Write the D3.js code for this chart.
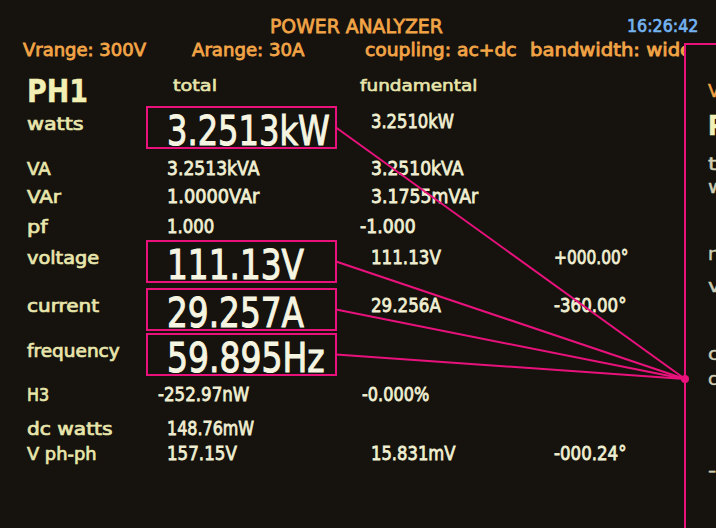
<!DOCTYPE html>
<html>
<head>
<meta charset="utf-8">
<script src="https://cdn.jsdelivr.net/npm/d3@7"></script>
<style>
  html, body { margin: 0; padding: 0; background: #16130e; }
  svg { display: block; }
  text { font-family: 'DejaVu Sans', sans-serif; }
</style>
</head>
<body>
<div id="screen"></div>
<script>
// readings shown on the analyzer screen
const title = 'POWER ANALYZER';
const clock = '16:26:42';
const settings = ['Vrange: 300V', 'Arange: 30A', 'coupling: ac+dc', 'bandwidth: wide'];
const phaseName = 'PH1';
const columns = ['total', 'fundamental'];

const rows = ['watts', 'VA', 'VAr', 'pf', 'voltage', 'current', 'frequency', 'H3', 'dc watts', 'V ph-ph'];
const totalVals = ['3.2513kW', '3.2513kVA', '1.0000VAr', '1.000', '111.13V', '29.257A', '59.895Hz', '-252.97nW', '148.76mW', '157.15V'];
const fundVals = ['3.2510kW', '3.2510kVA', '3.1755mVAr', '-1.000', '111.13V', '29.256A', '', '-0.000%', '', '15.831mV'];
const phaseVals = ['', '', '', '', '+000.00°', '-360.00°', '', '', '', '-000.24°'];
const bigRows = ['watts', 'voltage', 'current', 'frequency'];

// second channel, mostly hidden behind the right edge
const nextLines = ['Vrange', 'PH2', 'total', 'watts', 'rms', 'volts', 'current', 'cos', '-'];

const w = 716, h = 528;

const colors = {
  orange: '#f2a446',
  blue: '#74b4f2',
  label: '#e8e6ac',
  value: '#f0efd2',
  big: '#f6f5e2',
  ph: '#f2f0b4',
  pink: '#e9127d'
};

const svg = d3.select('#screen').append('svg')
  .attr('width', w)
  .attr('height', h);

svg.append('rect').attr('width', w).attr('height', h).attr('fill', '#16130e');

const defs = svg.append('defs');
defs.append('clipPath').attr('id', 'leftClip')
  .append('rect').attr('x', 0).attr('y', 0).attr('width', 685).attr('height', h);
defs.append('clipPath').attr('id', 'rightClip')
  .append('rect').attr('x', 686).attr('y', 44).attr('width', 30).attr('height', h);

// row baselines and column positions
const y = d3.scaleOrdinal()
  .domain(rows)
  .range([130, 175, 203, 233, 264, 312, 357, 401, 435, 460]);
const x = d3.scaleOrdinal()
  .domain(['label', 'total', 'fundamental', 'phase'])
  .range([27, 167, 371, 554]);

// rough glyph widths of the screen font, in digit widths
function glyphs(str) {
  return d3.sum(str.split(''), c => {
    if (/[0-9]/.test(c)) return 1;
    if (c === '.' || c === ':') return 0.5;
    if (c === '-' || c === ' ') return 0.8;
    if (c === '°') return 0.6;
    if (c === '%') return 1.1;
    if (c === 'm' || c === 'W') return 1.4;
    if (c === 'w') return 1.5;
    if (/[A-Z]/.test(c)) return 1.15;
    return 1;
  });
}

// a thin outline in the same colour thickens the strokes like the screen glow
function put(sel, str, px, py, size, unit, fill, weight, thick) {
  return sel.append('text')
    .attr('x', px)
    .attr('y', py)
    .attr('font-size', size)
    .attr('font-weight', weight || 'normal')
    .attr('fill', fill)
    .attr('stroke', fill)
    .attr('stroke-width', thick === undefined ? 0.5 : thick)
    .attr('textLength', glyphs(str) * unit)
    .attr('lengthAdjust', 'spacingAndGlyphs')
    .text(str);
}

const main = svg.append('g');

//////////// HEADER ////////////
put(main, title, 270, 33, 20, 10.8, colors.orange, 'normal', 0.8);
put(main, clock, 627, 32, 17, 10.2, colors.blue, 'normal', 0.7);
const settingX = [23, 192, 365, 530];
settings.forEach((s, i) => {
  const t = put(main, s, settingX[i], 56, 17, 10.6, colors.orange, 'normal', 0.8);
  if (i === 3) t.attr('clip-path', 'url(#leftClip)');
});

put(main, phaseName, 27, 102, 32, 18.5, colors.ph, 'bold', 0.4);
put(main, columns[0], 173, 91, 16, 8.8, colors.label, 'normal', 0.6);
put(main, columns[1], 360, 91, 16, 10.3, colors.label, 'normal', 0.6);

//////////// TABLE ////////////
const sign = s => (s[0] === '-' || s[0] === '+') ? 9 : 0;

rows.forEach((r, i) => {
  put(main, r, x('label'), y(r), 17, 10.3, colors.label, 'normal', 0.7);

  const t = totalVals[i];
  if (bigRows.includes(r)) {
    put(main, t, x('total'), y(r) + 15, 41, 20.6, colors.big, 'normal', 1.1);
  } else {
    put(main, t, x('total') - sign(t), y(r), 19, 10.5, colors.value, 'normal', 0.8);
  }

  const f = fundVals[i];
  if (f) put(main, f, x('fundamental') - sign(f) - (f[0] === '-' && f.length < 7 ? 2 : 0), y(r) + (r === 'watts' ? -2 : 0), 19, 10.5, colors.value, 'normal', 0.8);

  const p = phaseVals[i];
  if (p) put(main, p, x('phase'), y(r), 19, 10.5, colors.value, 'normal', 0.8);
});

//////////// CALLOUTS ////////////
const dot = { x: 685, y: 379 };
const box = { x0: 147, x1: 336, above: 38, below: 3 };

const callouts = svg.append('g');

callouts.selectAll('line.callout')
  .data(bigRows)
  .enter()
  .append('line')
  .attr('class', 'callout')
  .attr('x1', box.x1)
  .attr('y1', r => y(r) + 15 - (box.above - box.below) / 2)
  .attr('x2', dot.x)
  .attr('y2', dot.y)
  .attr('stroke', colors.pink)
  .attr('stroke-width', 2);

callouts.selectAll('rect.callout')
  .data(bigRows)
  .enter()
  .append('rect')
  .attr('class', 'callout')
  .attr('x', box.x0)
  .attr('y', r => y(r) + 15 - box.above)
  .attr('width', box.x1 - box.x0)
  .attr('height', box.above + box.below)
  .attr('fill', 'none')
  .attr('stroke', colors.pink)
  .attr('stroke-width', 2);

// frame round the second channel
callouts.append('path')
  .attr('d', `M${dot.x},${h}V44H${w}`)
  .attr('fill', 'none')
  .attr('stroke', colors.pink)
  .attr('stroke-width', 2);

callouts.append('circle')
  .attr('cx', dot.x)
  .attr('cy', dot.y)
  .attr('r', 4)
  .attr('fill', colors.pink);

//////////// SECOND CHANNEL (cut off) ////////////
const right = svg.append('g').attr('clip-path', 'url(#rightClip)');
const nextY = [97, 135, 170, 193, 260, 292, 360, 385, 476];
nextLines.forEach((s, i) => {
  const fill = i === 0 ? colors.orange : (i === 1 ? colors.ph : '#cfcdb2');
  put(right, s, 708, nextY[i], i === 1 ? 26 : 17, i === 1 ? 16 : 10.3, fill, i === 1 ? 'bold' : 'normal', 0.5);
});
</script>
</body>
</html>
